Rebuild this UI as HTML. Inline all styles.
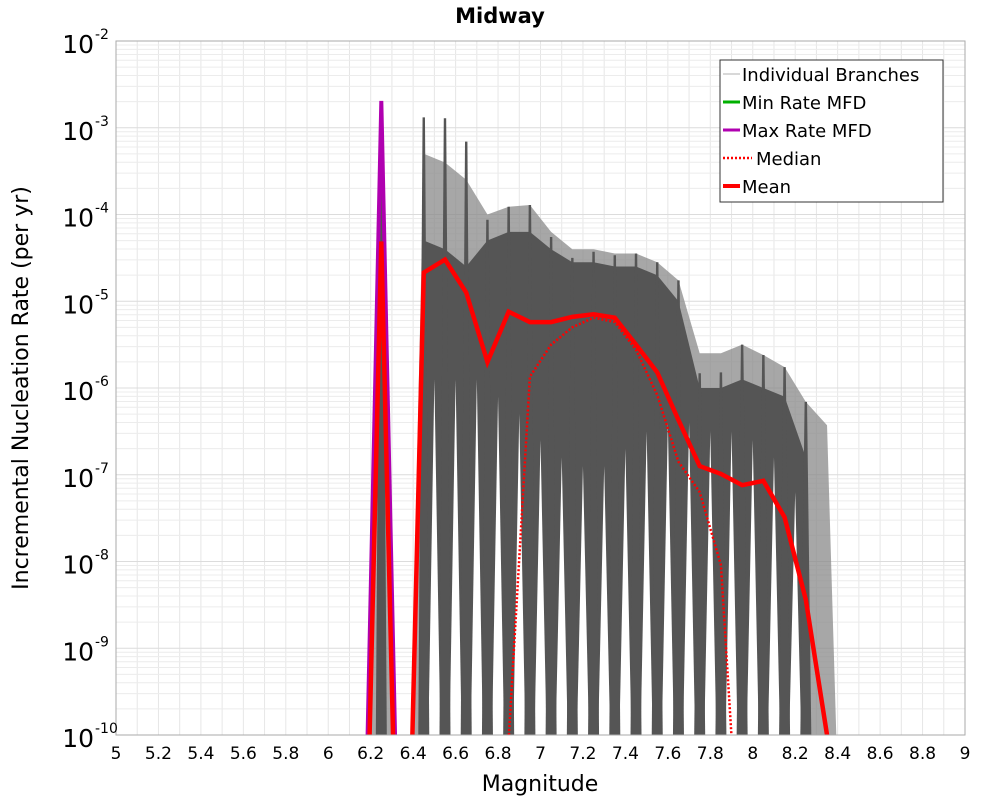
<!DOCTYPE html>
<html><head><meta charset="utf-8"><style>
html,body{margin:0;padding:0;background:#fff;width:1000px;height:800px;overflow:hidden;}
svg{display:block;font-family:"DejaVu Sans","Liberation Sans",sans-serif;}
</style></head><body>
<svg id="chart" width="1000" height="800" viewBox="0 0 1000 800">
<text x="500" y="23" text-anchor="middle" font-size="21" font-weight="bold">Midway</text>
<g id="grid"></g>
<g id="marks"></g>
<rect x="116" y="41" width="849" height="694" fill="none" stroke="#aaa"/>
<g id="ticks"></g>
<text x="540" y="791" text-anchor="middle" font-size="22">Magnitude</text>
<text transform="translate(28,388) rotate(-90)" text-anchor="middle" font-size="22">Incremental Nucleation Rate (per yr)</text>
<g>
<rect x="720" y="60" width="223" height="142" fill="#fff" stroke="#333"/>
<line x1="723" y1="74" x2="740" y2="74" stroke="#ccc" stroke-width="1.5"/>
<text x="742" y="81" font-size="18">Individual Branches</text>
<line x1="723" y1="102" x2="740" y2="102" stroke="#00b000" stroke-width="3"/>
<text x="742" y="109" font-size="18">Min Rate MFD</text>
<line x1="723" y1="130" x2="740" y2="130" stroke="#b000b0" stroke-width="3"/>
<text x="742" y="137" font-size="18">Max Rate MFD</text>
<line x1="723" y1="158" x2="752" y2="158" stroke="#f00" stroke-width="2.5" stroke-dasharray="2,2"/>
<text x="756" y="165" font-size="18">Median</text>
<line x1="723" y1="186" x2="740" y2="186" stroke="#f00" stroke-width="4"/>
<text x="742" y="193" font-size="18">Mean</text>
</g>
</svg>
<script>
const xTicks=[5,5.2,5.4,5.6,5.8,6,6.2,6.4,6.6,6.8,7,7.2,7.4,7.6,7.8,8,8.2,8.4,8.6,8.8,9];
const yTickExps=[-2,-3,-4,-5,-6,-7,-8,-9,-10];
const mags=[6.15,6.25,6.35,6.45,6.55,6.65,6.75,6.85,6.95,7.05,7.15,7.25,7.35,7.45,7.55,7.65,7.75,7.85,7.95,8.05,8.15,8.25,8.35,8.45];
const meanLog=[-16,-4.31,-16,-4.67,-4.52,-4.90,-5.70,-5.12,-5.24,-5.24,-5.18,-5.15,-5.19,-5.50,-5.82,-6.37,-6.90,-6.99,-7.12,-7.07,-7.49,-8.44,-10,-20];
const medianLog=[-30,-30,-30,-30,-30,-30,-30,-10.05,-5.87,-5.50,-5.30,-5.19,-5.24,-5.56,-6.08,-6.85,-7.20,-8.04,-12,-30,-30,-30,-30,-30];
const maxLog=[-14,-2.69,-14,-30,-30,-30,-30,-30,-30,-30,-30,-30,-30,-30,-30,-30,-30,-30,-30,-30,-30,-30,-30,-30];
const spikeLog=[-30,-2.75,-30,-2.88,-2.89,-3.16,-4.06,-3.91,-3.89,-4.26,-4.50,-4.43,-4.47,-4.45,-4.55,-4.76,-5.83,-5.82,-5.50,-5.62,-5.76,-6.16,-30,-30];
const lightLog=[-30,-3.4,-30,-3.3,-3.4,-3.6,-4.0,-3.91,-3.89,-4.2,-4.4,-4.4,-4.45,-4.45,-4.55,-4.76,-5.6,-5.6,-5.50,-5.62,-5.76,-6.16,-6.43,-30];
const darkLog=[-30,-30,-30,-4.3,-4.4,-4.6,-4.3,-4.2,-4.2,-4.4,-4.55,-4.55,-4.6,-4.6,-4.7,-5.0,-6.0,-6.0,-5.9,-6.0,-6.1,-6.8,-30,-30];
const gapLog=[-30,-30,-30,-5.9,-5.9,-5.9,-6.1,-6.3,-6.6,-6.8,-6.9,-6.9,-6.7,-6.5,-6.4,-6.4,-6.5,-6.5,-6.6,-6.8,-7.2,-30,-30,-30];

const NS='http://www.w3.org/2000/svg';
const X0=116,X1=965,Y0=41,Y1=735;
const xs=m=>X0+(m-5)*(X1-X0)/4;
const ys=v=>Y0+(-2-v)*(Y1-Y0)/8;
const yc=v=>Math.min(Math.max(ys(v),Y0-5),Y1+400);
function mk(tag,attrs,parent){const e=document.createElementNS(NS,tag);for(const k in attrs)e.setAttribute(k,attrs[k]);parent.appendChild(e);return e;}
const grid=document.getElementById('grid'),marks=document.getElementById('marks'),ticks=document.getElementById('ticks');

for(let m=5;m<=9.001;m+=0.1){const l=mk('line',{x1:xs(m),x2:xs(m),y1:Y0,y2:Y1,stroke:'#e6e6e6'},grid);

}
for(let e=-10;e<-2;e++){for(let k=1;k<10;k++){const v=e+Math.log10(k);const l=mk('line',{x1:X0,x2:X1,y1:ys(v),y2:ys(v),stroke:k==1?'#dcdcdc':'#ececec'},grid);

}}

const clip=mk('clipPath',{id:'pc'},marks);mk('rect',{x:X0,y:Y0,width:X1-X0,height:Y1-Y0},clip);
const g=mk('g',{'clip-path':'url(#pc)'},marks);
let pts=[];mags.forEach((m,i)=>pts.push(xs(m)+','+yc(lightLog[i])));
const env=mk('polygon',{points:pts.join(' '),fill:'#8a8a8a','fill-opacity':'0.75'},g);


pts=[];mags.forEach((m,i)=>{if(darkLog[i]>-29)pts.push(xs(m)+','+ys(darkLog[i]));});
const firstD=mags[darkLog.findIndex(v=>v>-29)],lastD=mags[darkLog.length-1-[...darkLog].reverse().findIndex(v=>v>-29)];
pts.push(xs(lastD)+','+Y1);pts.push(xs(firstD)+','+Y1);
const band=mk('polygon',{points:pts.join(' '),fill:'#555'},g);


mags.forEach((m,i)=>{if(gapLog[i]<-29)return;const cx=xs(m+0.05);
const t=mk('polygon',{points:(cx-6)+','+Y1+' '+cx+','+ys(gapLog[i])+' '+(cx+6)+','+Y1,fill:'#fff'},g);

});
mags.forEach((m,i)=>{if(spikeLog[i]<-29)return;const cx=xs(m);
const t=mk('polygon',{points:(cx-5.5)+','+Y1+' '+(cx-1.2)+','+ys(spikeLog[i])+' '+(cx+1.2)+','+ys(spikeLog[i])+' '+(cx+5.5)+','+Y1,fill:'#555'},g);

});
function line(arr,attrs,name){const p=[];mags.forEach((m,i)=>p.push(xs(m)+','+yc(arr[i])));
const l=mk('polyline',Object.assign({points:p.join(' '),fill:'none'},attrs),g);

}
line(maxLog,{stroke:'#b000b0','stroke-width':4},'max-rate-line');
line(medianLog,{stroke:'#f00','stroke-width':2.5,'stroke-dasharray':'2,2'},'median-line');
line(meanLog,{stroke:'#f00','stroke-width':4.5,'stroke-linejoin':'miter'},'mean-line');

xTicks.forEach(t=>{const e=mk('text',{x:xs(t),y:759,'text-anchor':'middle','font-size':17},ticks);e.textContent=String(t);

});
yTickExps.forEach(ex=>{const e=mk('text',{x:94,y:ys(ex)+12,'text-anchor':'end','font-size':25},ticks);e.textContent='10';


const s=mk('text',{x:95,y:ys(ex)-2,'font-size':14},ticks);s.textContent=String(ex);

});
</script>
</body></html>
